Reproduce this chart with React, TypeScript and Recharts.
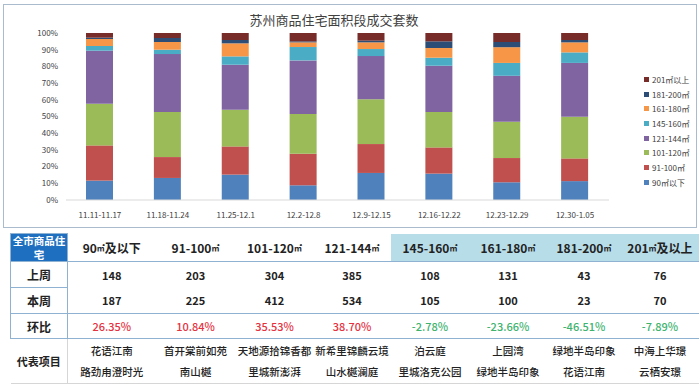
import React from 'react';
import { BarChart, Bar, XAxis, YAxis, Legend } from 'recharts';

const weeks = ['11.11-11.17', '11.18-11.24', '11.25-12.1', '12.2-12.8', '12.9-12.15', '12.16-12.22', '12.23-12.29', '12.30-1.05'];

// share of each size band per week (%)
const s90 = [11.6, 13.2, 15.2, 8.8, 16.2, 15.8, 10.6, 11.3];
const s91 = [21.1, 12.5, 16.9, 18.9, 17.3, 15.7, 14.5, 13.6];
const s101 = [25.0, 27.0, 22.0, 23.8, 26.8, 21.2, 21.7, 24.9];
const s121 = [31.7, 34.7, 26.9, 32.1, 25.9, 27.7, 27.5, 32.2];
const s145 = [2.8, 2.6, 5.0, 8.0, 4.2, 4.8, 7.7, 6.3];
const s161 = [4.2, 4.6, 7.8, 2.8, 4.0, 5.8, 9.4, 6.0];
const s181 = [0.8, 2.4, 2.0, 0.6, 1.0, 4.0, 3.1, 1.4];
const s201 = [2.8, 3.0, 4.2, 5.0, 4.6, 5.0, 5.4, 4.2];

const seriesNames = ['90㎡以下', '91-100㎡', '101-120㎡', '121-144㎡', '145-160㎡', '161-180㎡', '181-200㎡', '201㎡以上'];
const seriesValues = [s90, s91, s101, s121, s145, s161, s181, s201];
const colors = ['#4F81BD', '#C0504D', '#9BBB59', '#8064A2', '#4BACC6', '#F79646', '#2C4D75', '#772C2A'];
const yTicks = [0, 0.1, 0.2, 0.3, 0.4, 0.5, 0.6, 0.7, 0.8, 0.9, 1];

// table
const bandFrom = ['90', '91-100', '101-120', '121-144', '145-160', '161-180', '181-200', '201'];
const bandTail = ['及以下', '', '', '', '', '', '', '及以上'];
const lastWeek = [148, 203, 304, 385, 108, 131, 43, 76];
const thisWeek = [187, 225, 412, 534, 105, 100, 23, 70];
const change = ['26.35%', '10.84%', '35.53%', '38.70%', '-2.78%', '-23.66%', '-46.51%', '-7.89%'];
const projectsA = ['花语江南', '首开棠前如苑', '天地源拾锦香都', '新希里锦麟云境', '泊云庭', '上园湾', '绿地半岛印象', '中海上华璟'];
const projectsB = ['路劲甪澄时光', '南山樾', '里城新澎湃', '山水樾澜庭', '里城洛克公园', '绿地半岛印象', '花语江南', '云栖安璟'];

const data = weeks.map((w, i) => {
  const row: Record<string, string | number> = { week: w };
  seriesNames.forEach((n, k) => { row[n] = seriesValues[k][i]; });
  return row;
});

const font = '"Noto Sans CJK SC", "Liberation Sans", sans-serif';
const colWidths = [57, 88, 80, 78, 77, 79, 77, 75, 77];
const lineColor = '#8FB2D3';

const LegendBox = () => (
  <div style={{ fontFamily: font, fontSize: 8, color: '#404040' }}>
    {seriesNames.map((n, i) => ({ n, c: colors[i] })).reverse().map((it) => (
      <div key={it.n} style={{ display: 'flex', alignItems: 'center', height: 14.7 }}>
        <span style={{ width: 5, height: 5, background: it.c, marginRight: 3 }} />
        <span>{it.n}</span>
      </div>
    ))}
  </div>
);

const cellBase: React.CSSProperties = {
  padding: 0, textAlign: 'center', verticalAlign: 'middle', whiteSpace: 'nowrap', overflow: 'hidden',
};

export default function App() {
  return (
    <div style={{ position: 'absolute', left: 0, top: 0, width: 700, height: 385, background: '#fff', fontFamily: font }}>
      <div style={{ position: 'absolute', left: 3, top: 4, width: 692, height: 222, border: '1px solid #A9BBCD' }}>
        <div style={{ position: 'absolute', left: 0, top: 5, width: 660, textAlign: 'center', fontSize: 13, color: '#404040' }}>
          苏州商品住宅面积段成交套数
        </div>
        <BarChart
          width={692}
          height={222}
          data={data}
          stackOffset="expand"
          margin={{ top: 28, right: 87, left: 0, bottom: 0 }}
          barSize={27}
        >
          <XAxis
            dataKey="week"
            tick={{ fontSize: 8, fill: '#404040' }}
            tickLine={false}
            axisLine={{ stroke: '#D9D9D9' }}
            interval={0}
            height={27}
            tickMargin={6}
          />
          <YAxis
            width={62}
            domain={[0, 1]}
            ticks={yTicks}
            tickFormatter={(v: number) => `${Math.round(v * 100)}%`}
            tick={{ fontSize: 8, fill: '#404040' }}
            tickLine={false}
            axisLine={false}
            interval={0}
          />
          <Legend
            layout="vertical"
            align="center"
            verticalAlign="middle"
            content={() => <LegendBox />}
            wrapperStyle={{ left: 640, top: 67, width: 55 }}
          />
          {seriesNames.map((n, i) => (
            <Bar key={n} dataKey={n} stackId="a" fill={colors[i]} isAnimationActive={false} />
          ))}
        </BarChart>
      </div>

      <table
        style={{
          position: 'absolute', left: 10, top: 233, width: 688, borderCollapse: 'collapse',
          tableLayout: 'fixed', fontFamily: font, color: '#222',
        }}
      >
        <colgroup>
          {colWidths.map((w, i) => <col key={i} style={{ width: w }} />)}
        </colgroup>
        <tbody>
          <tr style={{ height: 28 }}>
            <td style={{ ...cellBase, background: '#1F6FC0', color: '#fff', fontWeight: 700, fontSize: 10.5, lineHeight: '13.5px', border: `1px solid ${lineColor}` }}>
              <div>全市商品住</div>
              <div>宅</div>
            </td>
            {bandFrom.map((b, i) => (
              <td key={b} style={{ ...cellBase, fontWeight: 700, fontSize: 12, background: i >= 4 ? '#B7DDE9' : '#fff', borderBottom: `1px solid ${lineColor}` }}>
                {b}<span style={{ fontSize: 8, verticalAlign: 2 }}>㎡</span>{bandTail[i]}
              </td>
            ))}
          </tr>
          <tr style={{ height: 26 }}>
            <td style={{ ...cellBase, fontWeight: 700, fontSize: 12, border: `1px solid ${lineColor}` }}>上周</td>
            {lastWeek.map((v, i) => (
              <td key={i} style={{ ...cellBase, fontWeight: 700, fontSize: 11 }}>{v}</td>
            ))}
          </tr>
          <tr style={{ height: 26 }}>
            <td style={{ ...cellBase, fontWeight: 700, fontSize: 12, border: `1px solid ${lineColor}` }}>本周</td>
            {thisWeek.map((v, i) => (
              <td key={i} style={{ ...cellBase, fontWeight: 700, fontSize: 11, borderBottom: `1px solid ${lineColor}` }}>{v}</td>
            ))}
          </tr>
          <tr style={{ height: 25 }}>
            <td style={{ ...cellBase, fontWeight: 700, fontSize: 12, border: `1px solid ${lineColor}` }}>环比</td>
            {change.map((v, i) => (
              <td
                key={i}
                style={{
                  ...cellBase, fontSize: 11, fontWeight: 500,
                  color: v.startsWith('-') ? '#3DB36E' : '#E5323F',
                  borderBottom: `1px solid ${lineColor}`,
                }}
              >
                {v}
              </td>
            ))}
          </tr>
          <tr style={{ height: 45 }}>
            <td style={{ ...cellBase, fontWeight: 700, fontSize: 11, borderRight: '1px solid #D6D6D6', borderBottom: '1px solid #D6D6D6' }}>代表项目</td>
            {projectsA.map((p, i) => (
              <td key={i} style={{ ...cellBase, fontSize: 10.5, fontWeight: 500, lineHeight: '21px', borderBottom: '1px solid #D6D6D6' }}>
                {p}<br />{projectsB[i]}
              </td>
            ))}
          </tr>
        </tbody>
      </table>
    </div>
  );
}
